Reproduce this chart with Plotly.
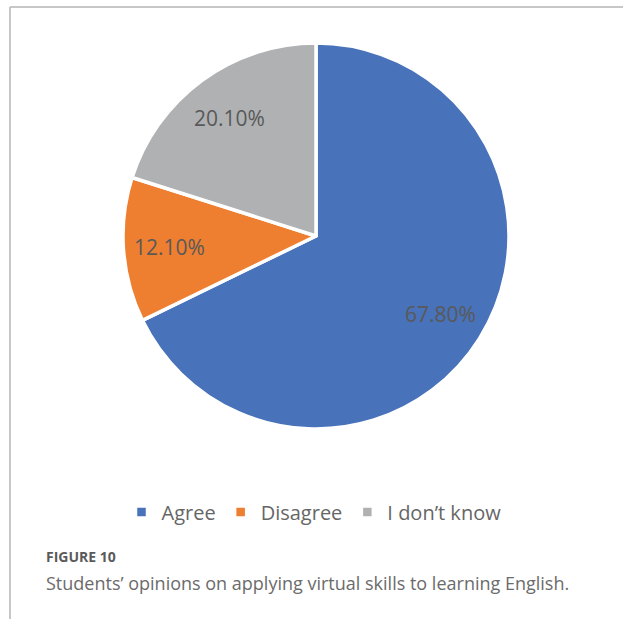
import math
import plotly.graph_objects as go

categories = ["Agree", "Disagree", "I don\u2019t know"]
values = [67.8, 12.1, 20.1]
colors = ["#4872B9", "#EE7F31", "#B0B1B3"]
value_labels = ["67.80%", "12.10%", "20.10%"]

W, H = 623, 619
cx, cy, R = 316, 236, 193  # pie centre / radius in pixels

fig = go.Figure()
fig.add_trace(go.Pie(
    labels=categories,
    values=values,
    sort=False,
    direction="clockwise",
    rotation=0,
    marker=dict(colors=colors, line=dict(color="white", width=3.5)),
    textinfo="none",
    hoverinfo="label+percent",
    domain=dict(x=[(cx - R) / W, (cx + R) / W], y=[1 - (cy + R) / H, 1 - (cy - R) / H]),
))

# data labels placed at 0.76 of the radius along each slice's mid-angle
annotations = []
total = sum(values)
cum = 0.0
for v, lab in zip(values, value_labels):
    mid = (cum + v / 2) / total * 2 * math.pi
    cum += v
    px = cx + 0.76 * R * math.sin(mid)
    py = cy - 0.76 * R * math.cos(mid)
    annotations.append(dict(
        x=px / W, y=1 - py / H, xref="paper", yref="paper",
        text=lab, showarrow=False, xanchor="center", yanchor="middle",
        font=dict(family="Open Sans", size=21, color="#595959"),
    ))

annotations.append(dict(
    x=44 / W, y=1 - 556 / H, xref="paper", yref="paper", xanchor="left", yanchor="middle",
    text="<b>FIGURE 10</b>", showarrow=False,
    font=dict(family="Open Sans", size=14, color="#5A5A5A"),
))
annotations.append(dict(
    x=44 / W, y=1 - 583 / H, xref="paper", yref="paper", xanchor="left", yanchor="middle",
    text="Students\u2019 opinions on applying virtual skills to learning English.",
    showarrow=False,
    font=dict(family="Open Sans", size=18, color="#6B6B6B"),
))

fig.update_layout(
    width=W, height=H,
    margin=dict(l=0, r=0, t=0, b=0),
    paper_bgcolor="white", plot_bgcolor="white",
    showlegend=True,
    legend=dict(
        orientation="h", x=314 / W, xanchor="center", y=1 - 512 / H, yanchor="middle",
        font=dict(family="Open Sans", size=20, color="#666666"),
        itemclick=False, itemdoubleclick=False,
    ),
    annotations=annotations,
    shapes=[
        dict(type="line", xref="paper", yref="paper", x0=10 / W, x1=1, y0=1 - 7 / H, y1=1 - 7 / H,
             line=dict(color="#B4B4B4", width=1.5)),
        dict(type="line", xref="paper", yref="paper", x0=10 / W, x1=10 / W, y0=1 - 7 / H, y1=0,
             line=dict(color="#B4B4B4", width=1.5)),
    ],
)

fig.write_html("out.html", config={"displayModeBar": False},
               post_script="document.body.style.margin='0';")
